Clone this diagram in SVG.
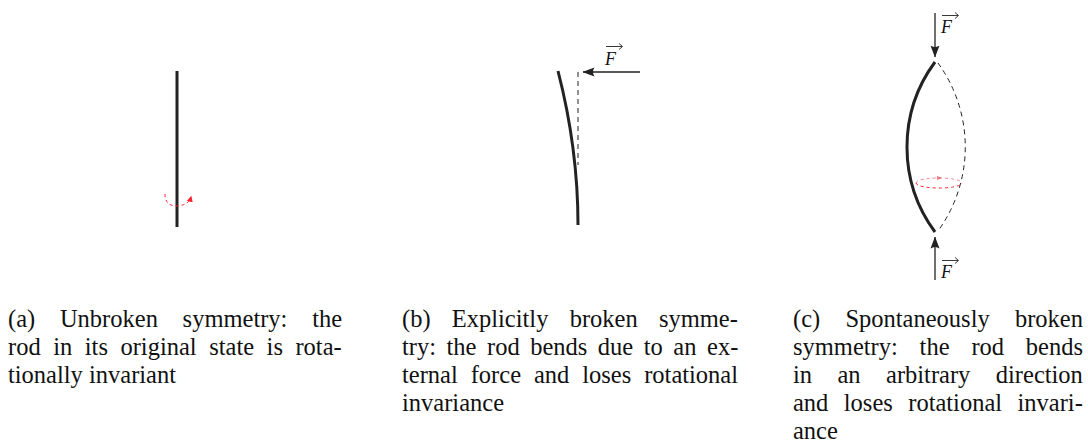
<svg xmlns="http://www.w3.org/2000/svg" width="1088" height="445" viewBox="0 0 1088 445">
<style>
.rod{fill:none;stroke:#222;stroke-width:3;stroke-linecap:butt}
.dash{fill:none;stroke:#222;stroke-width:1;stroke-dasharray:5,4}
.red{fill:none;stroke:#f23;stroke-width:1;stroke-dasharray:3,3}
.arr{fill:none;stroke:#222;stroke-width:1.3}
.vec{fill:none;stroke:#222;stroke-width:0.9}
.cap{font-family:"Liberation Serif","Times New Roman",Tinos,"DejaVu Serif",serif;font-size:24.5px;fill:#111}
.lab{font-family:"Liberation Serif","Times New Roman",Tinos,"DejaVu Serif",serif;font-size:18px;font-style:italic;fill:#111}
</style>
<defs>
<marker id="ah" viewBox="0 0 12 10" refX="11.5" refY="5" markerWidth="12" markerHeight="10" markerUnits="userSpaceOnUse" orient="auto">
<path d="M0,0.5 L12,5 L0,9.5 Q3,5 0,0.5 Z" fill="#222"/>
</marker>
<marker id="rh" viewBox="0 0 10 10" refX="8" refY="5" markerWidth="6" markerHeight="6" markerUnits="userSpaceOnUse" orient="auto">
<path d="M0,0 L10,5 L0,10 Z" fill="#f23"/>
</marker>
</defs>
<g id="panel-a">
<line class="rod" x1="177" y1="71" x2="177" y2="227"/>
<path class="red" d="M165,194 Q165,206 177,206 Q189,205 191,197" marker-end="url(#rh)"/>
</g>
<g id="panel-b">
<path class="rod" d="M578,225 Q578,148.5 558,71"/>
<line class="dash" x1="578" y1="72" x2="578" y2="165"/>
<line class="arr" x1="640" y1="72" x2="583" y2="72" marker-end="url(#ah)"/>
<text class="lab" x="605" y="65">F</text>
<line class="vec" x1="606" y1="46.5" x2="622" y2="46.5"/>
<path class="vec" d="M619,43.5 L622.5,46.5 L619,49.5"/>
</g>
<g id="panel-c">
<path class="rod" d="M935,62 A143,143 0 0 0 935,232"/>
<path class="dash" d="M938,63 A143,143 0 0 1 938,231"/>
<path class="red" d="M916,183 A23,5 0 0 1 962,183" opacity="0.55"/>
<path class="red" d="M916,183 A23,5 0 0 0 962,183"/>
<path d="M937,176 L942,178 L937,180 Z" fill="#f23" opacity="0.6"/>
<line class="arr" x1="935" y1="13" x2="935" y2="57" marker-end="url(#ah)"/>
<line class="arr" x1="935" y1="280" x2="935" y2="237" marker-end="url(#ah)"/>
<text class="lab" x="941" y="33">F</text>
<line class="vec" x1="942" y1="15.5" x2="958" y2="15.5"/>
<path class="vec" d="M955,12.5 L958.5,15.5 L955,18.5"/>
<text class="lab" x="941" y="278">F</text>
<line class="vec" x1="942" y1="260.5" x2="958" y2="260.5"/>
<path class="vec" d="M955,257.5 L958.5,260.5 L955,263.5"/>
</g>
<g id="captions">
<text class="cap" x="8" y="327" word-spacing="18.6">(a) Unbroken symmetry: the</text>
<text class="cap" x="8" y="355" word-spacing="6.4">rod in its original state is rota-</text>
<text class="cap" x="8" y="383">tionally invariant</text>
<text class="cap" x="402" y="327" word-spacing="15.1">(b) Explicitly broken symme-</text>
<text class="cap" x="402" y="355" word-spacing="4.4">try: the rod bends due to an ex-</text>
<text class="cap" x="402" y="383" word-spacing="6.8">ternal force and loses rotational</text>
<text class="cap" x="402" y="411">invariance</text>
<text class="cap" x="793" y="327" word-spacing="19.1">(c) Spontaneously broken</text>
<text class="cap" x="793" y="355" word-spacing="15.7">symmetry: the rod bends</text>
<text class="cap" x="793" y="383" word-spacing="19.3">in an arbitrary direction</text>
<text class="cap" x="793" y="411" word-spacing="9.3">and loses rotational invari-</text>
<text class="cap" x="793" y="439">ance</text>
</g>
</svg>
